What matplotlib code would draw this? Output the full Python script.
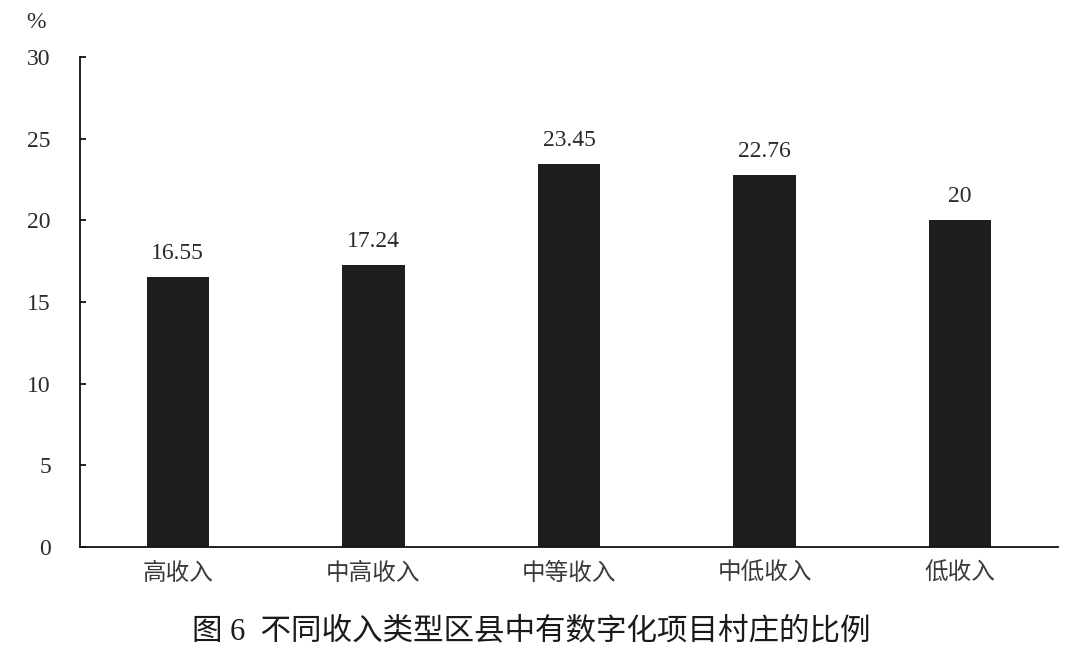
import matplotlib
matplotlib.use("Agg")
import matplotlib.pyplot as plt

categories = ["高收入", "中高收入", "中等收入", "中低收入", "低收入"]
values = [16.55, 17.24, 23.45, 22.76, 20]
value_labels = ["16.55", "17.24", "23.45", "22.76", "20"]
yticks = [0, 5, 10, 15, 20, 25, 30]
title = "图 6  不同收入类型区县中有数字化项目村庄的比例"

serif = ["Liberation Serif", "DejaVu Serif"]
cjk = ["Noto Sans CJK SC", "DejaVu Sans"]
tcol = "#2a2a2a"

fig = plt.figure(figsize=(10.8, 6.69), dpi=100)
ax = fig.add_axes([80/1080, 1-547/669, 978/1080, 490/669])

x = list(range(len(categories)))
ax.bar(x, values, width=0.32, color="#1e1e1e")
for xi, v, lab in zip(x, values, value_labels):
    ax.text(xi, v + 0.8, lab, ha="center", va="bottom", fontsize=17,
            family=serif, color=tcol)

ax.set_xlim(-0.5, 4.5)
ax.set_ylim(0, 30)
ax.set_yticks(yticks)
ax.set_yticklabels([str(t) for t in yticks], family=serif, fontsize=17, color=tcol)
ax.set_xticks(x)
ax.set_xticklabels(categories, family=cjk, fontsize=17, color="#3a3a3a")
ax.tick_params(axis="y", direction="in", length=4, width=1.2, pad=21)
ax.tick_params(axis="x", length=0, pad=11)
ax.spines["top"].set_visible(False)
ax.spines["right"].set_visible(False)
ax.spines["left"].set_linewidth(1.3)
ax.spines["bottom"].set_linewidth(1.3)
ax.spines["left"].set_color("#111111")
ax.spines["bottom"].set_color("#111111")

fig.text(36/1080, 1-22/669, "%", family=serif, fontsize=17, color=tcol,
         ha="center", va="center")
fig.text(531/1080, 1-632/669, title, family=["Liberation Serif", "Noto Sans CJK SC"],
         fontsize=22, color="#1a1a1a", ha="center", va="center")

fig.savefig("out.png", dpi=100, facecolor="white")
